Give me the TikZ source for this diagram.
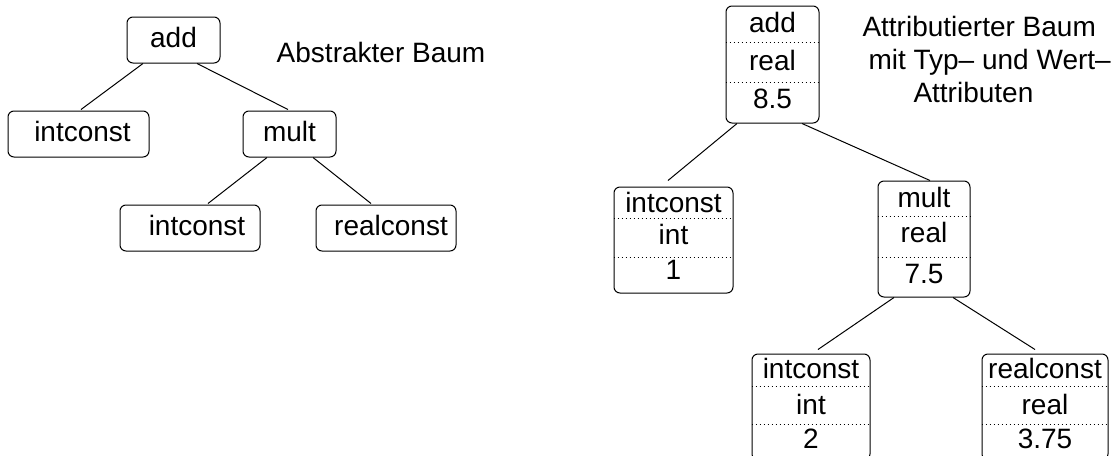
\documentclass[tikz,border=0pt]{standalone}
\usepackage{fontspec}
\setmainfont{Liberation Sans}
\usetikzlibrary{calc}
\begin{document}
\begin{tikzpicture}[x=0.5pt,y=-0.5pt,line width=0.5pt,
  txt/.style={inner sep=0pt,text height=0.716em,text depth=0pt,font=\fontsize{14pt}{16pt}\selectfont},
  box/.style={draw,rounded corners=3pt,inner sep=0pt,minimum height=23pt,txt},
  abox/.style={draw,rounded corners=3pt,inner sep=0pt},
  sep/.style={line width=0.5pt,dash pattern=on 0.5pt off 1.5pt},
  edge/.style={line width=0.5pt}]
\useasboundingbox (0,0) rectangle (1116,456);
% ---- left: abstract tree
\node[box,minimum width=46.5pt] (add) at (173.5,40) {add};
\node[box,minimum width=70.5pt] (i1) at (78.5,134) {\hspace*{4pt}intconst};
\node[box,minimum width=46.5pt] (mult) at (289.5,134) {mult};
\node[box,minimum width=70pt] (i2) at (190,228) {\hspace*{7pt}intconst};
\node[box,minimum width=70pt] (rc) at (386,228) {\hspace*{5pt}realconst};
\node[txt] (t1) at (381,55) {Abstrakter Baum};
\draw[edge] ($(add.south)+(-30.5,0)$) -- ($(i1.north)+(2.5,-1)$);
\draw[edge] ($(add.south)+(23.5,0)$) -- ($(mult.north)+(-1.5,-1)$);
\draw[edge] ($(mult.south)+(-22.5,0)$) -- ($(i2.north)+(18,-1)$);
\draw[edge] ($(mult.south)+(23.5,0)$) -- ($(rc.north)+(-15,-1)$);
% ---- right: attributed tree
\node[abox,minimum width=46.5pt,minimum height=58.5pt] (ra) at (772.5,64.5) {};
\node[abox,minimum width=59.5pt,minimum height=53pt] (ri1) at (673.5,240) {};
\node[abox,minimum width=46pt,minimum height=58pt] (rm) at (924,239) {};
\node[abox,minimum width=59pt,minimum height=53pt] (ri2) at (811,407) {};
\node[abox,minimum width=63pt,minimum height=53pt] (rrc) at (1045,407) {};
% dividers
\draw[sep] (ra.west |- 0,42) -- (ra.east |- 0,42);
\draw[sep] (ra.west |- 0,82) -- (ra.east |- 0,82);
\draw[sep] (ri1.west |- 0,218) -- (ri1.east |- 0,218);
\draw[sep] (ri1.west |- 0,257) -- (ri1.east |- 0,257);
\draw[sep] (rm.west |- 0,216) -- (rm.east |- 0,216);
\draw[sep] (rm.west |- 0,257) -- (rm.east |- 0,257);
\draw[sep] (ri2.west |- 0,386) -- (ri2.east |- 0,386);
\draw[sep] (ri2.west |- 0,424) -- (ri2.east |- 0,424);
\draw[sep] (rrc.west |- 0,386) -- (rrc.east |- 0,386);
\draw[sep] (rrc.west |- 0,424) -- (rrc.east |- 0,424);
% row texts
\node[txt] (ra1) at (772.5,25) {add};
\node[txt] (ra2) at (772.5,63) {real};
\node[txt] (ra3) at (772.5,101.5) {8.5};
\node[txt] (ri11) at (673.5,205) {intconst};
\node[txt] (ri12) at (673.5,237) {int};
\node[txt] (ri13) at (673.5,272) {1};
\node[txt] (rm1) at (924,200) {mult};
\node[txt] (rm2) at (924,235) {real};
\node[txt] (rm3) at (924,276) {7.5};
\node[txt] (ri21) at (811,371) {intconst};
\node[txt] (ri22) at (811,407) {int};
\node[txt] (ri23) at (811,441) {2};
\node[txt] (rrc1) at (1045,371) {realconst};
\node[txt] (rrc2) at (1045,407) {real};
\node[txt] (rrc3) at (1045,441) {3.75};
% title
\node[txt,anchor=west] (h1) at (862,29.5) {Attributierter Baum};
\node[txt,anchor=west] (h2) at (868,62) {mit Typ– und Wert–};
\node[txt,anchor=west] (h3) at (913,95) {Attributen};
% edges
\draw[edge] ($(ra.south)+(-35.5,0)$) -- ($(ri1.north)+(-5.5,-6)$);
\draw[edge] ($(ra.south)+(29.5,0)$) -- ($(rm.north)+(6,0)$);
\draw[edge] ($(rm.south)+(-30,0)$) -- ($(ri2.north)+(7,-4)$);
\draw[edge] ($(rm.south)+(29,0)$) -- ($(rrc.north)+(-10,-4)$);
\end{tikzpicture}
\end{document}
